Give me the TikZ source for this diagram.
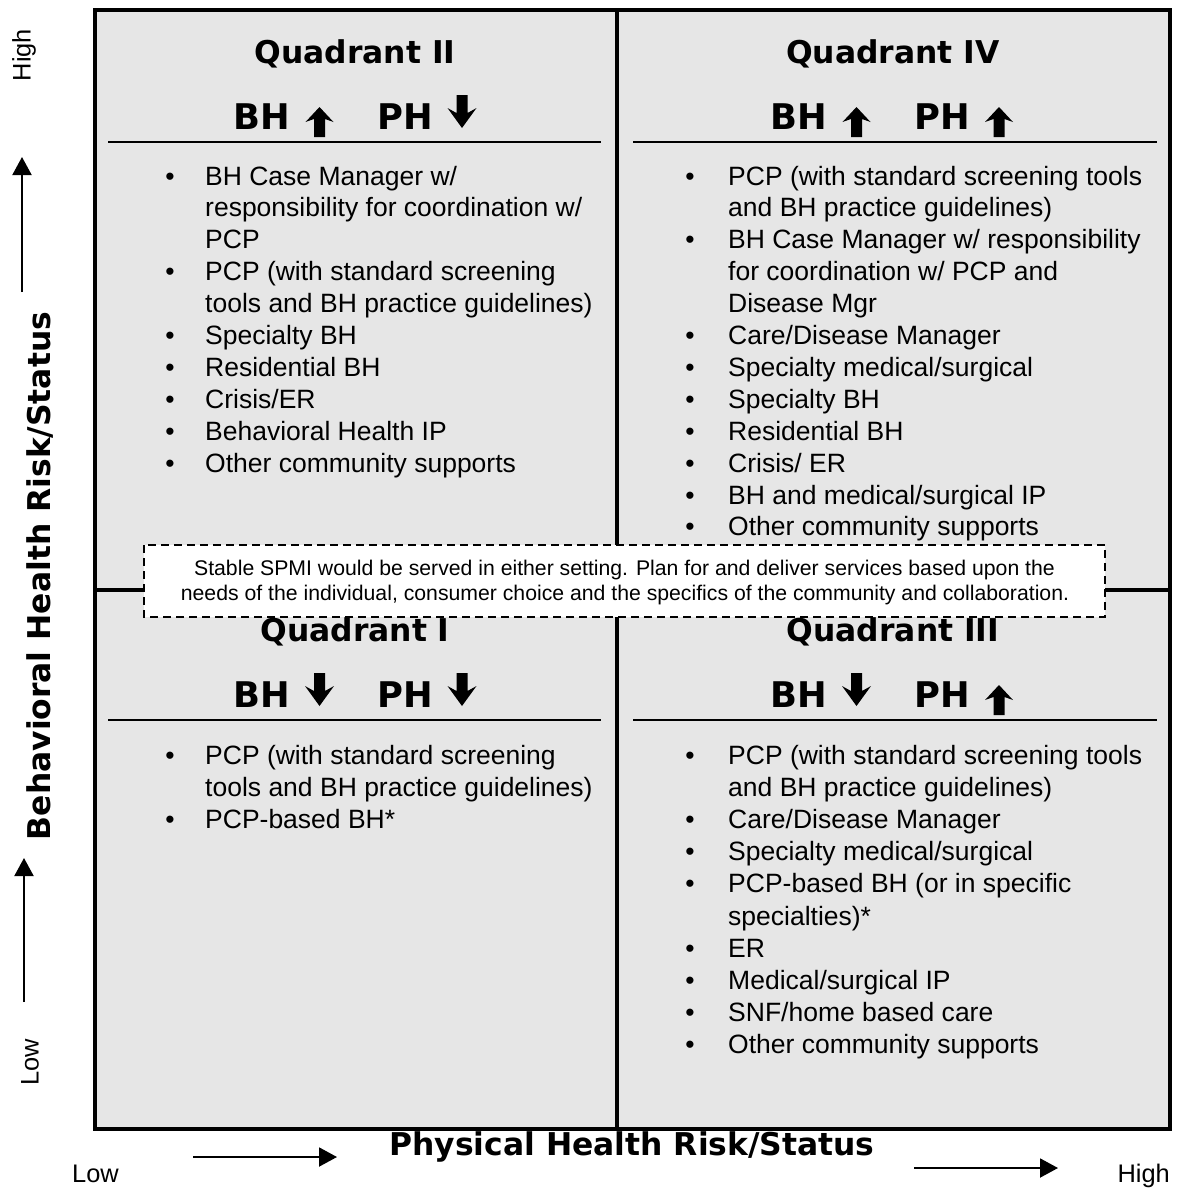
\documentclass[tikz,border=0pt]{standalone}
\usepackage{fontspec}
\setmainfont{Liberation Sans}
\newfontfamily\heavy{DejaVu Sans Bold}
\usetikzlibrary{arrows.meta}
\definecolor{quadfill}{RGB}{230,230,230}
\tikzset{
  body/.style={font=\fontsize{26.6}{32}\selectfont, inner sep=0pt, anchor=base west},
  bul/.style={font=\fontsize{26.6}{32}\selectfont, inner sep=0pt, anchor=base},
  qtitle/.style={font=\heavy\fontsize{31.5}{36}\selectfont, inner sep=0pt, anchor=base},
  hdr/.style={font=\heavy\fontsize{35.5}{40}\selectfont, inner sep=0pt, anchor=base west},
  axlabel/.style={font=\fontsize{25.5}{28}\selectfont, inner sep=0pt},
  axtitle/.style={font=\heavy\fontsize{31.5}{36}\selectfont, inner sep=0pt},
  axarrow/.style={line width=2bp, -{Triangle[length=18bp,width=19bp]}},
  note/.style={font=\fontsize{21.3}{25}\selectfont, inner sep=0pt, anchor=base},
  hrule/.style={line width=2bp},
}
\newcommand\tline[4]{\node[body] (#1) at (#2,#3) {#4};}
\newcommand\tbul[3]{\node[bul] (#1) at (#2,#3) {\textbullet};}
\newcommand\upblk[2]{\fill (#1,#2) -- ++(14,15) -- ++(-8.5,-3) -- ++(0,18) -- ++(-11,0) -- ++(0,-18) -- ++(-8.5,3) -- cycle;}
\newcommand\downblk[2]{\fill (#1,#2) ++(-5.5,0) -- ++(11,0) -- ++(0,18) -- ++(9,-5) -- ++(-14.5,20) -- ++(-14.5,-20) -- ++(9,5) -- cycle;}
\begin{document}
\begin{tikzpicture}[x=1bp,y=-1bp]
\useasboundingbox (0,0) rectangle (1190,1188);
% frame and dividers
\draw[line width=4bp, fill=quadfill] (95,10) rectangle (1170,1129);
\draw[line width=3.5bp] (617,10) -- (617,1129);
\draw[line width=3.5bp] (95,590) -- (1170,590);
% header rules
\draw[hrule] (108,142) -- (601,142);
\draw[hrule] (633,142) -- (1157,142);
\draw[hrule] (108,720) -- (601,720);
\draw[hrule] (633,720) -- (1157,720);
% titles
\node[qtitle] (t2) at (355,63) {Quadrant II};
\node[qtitle] (t4) at (893,63) {Quadrant IV};
\node[qtitle] (t1) at (355,641) {Quadrant I};
\node[qtitle] (t3) at (893,641) {Quadrant III};
% header rows
\node[hdr] (h2bh) at (233,129) {BH};
\node[hdr] (h2ph) at (377,129) {PH};
\upblk{319.5}{107}
\downblk{462}{95}
\node[hdr] (h4bh) at (770,129) {BH};
\node[hdr] (h4ph) at (914,129) {PH};
\upblk{856.5}{107}
\upblk{999}{107}
\node[hdr] (h1bh) at (233,707) {BH};
\node[hdr] (h1ph) at (377,707) {PH};
\downblk{319.5}{673}
\downblk{462}{673}
\node[hdr] (h3bh) at (770,707) {BH};
\node[hdr] (h3ph) at (914,707) {PH};
\downblk{856.5}{673}
\upblk{999}{685}
% Quadrant II list
\tbul{b2a}{170}{185}
\tline{q2a}{205}{185}{BH Case Manager w/}
\tline{q2b}{205}{216.9}{responsibility for coordination w/}
\tline{q2c}{205}{248.8}{PCP}
\tbul{b2d}{170}{280.7}
\tline{q2d}{205}{280.7}{PCP (with standard screening}
\tline{q2e}{205}{312.6}{tools and BH practice guidelines)}
\tbul{b2f}{170}{344.5}
\tline{q2f}{205}{344.5}{Specialty BH}
\tbul{b2g}{170}{376.4}
\tline{q2g}{205}{376.4}{Residential BH}
\tbul{b2h}{170}{408.3}
\tline{q2h}{205}{408.3}{Crisis/ER}
\tbul{b2i}{170}{440.2}
\tline{q2i}{205}{440.2}{Behavioral Health IP}
\tbul{b2j}{170}{472.1}
\tline{q2j}{205}{472.1}{Other community supports}
% Quadrant IV list
\tbul{b4a}{690}{185}
\tline{q4a}{728}{185}{PCP (with standard screening tools}
\tline{q4b}{728}{216.9}{and BH practice guidelines)}
\tbul{b4c}{690}{248.8}
\tline{q4c}{728}{248.8}{BH Case Manager w/ responsibility}
\tline{q4d}{728}{280.7}{for coordination w/ PCP and}
\tline{q4e}{728}{312.6}{Disease Mgr}
\tbul{b4f}{690}{344.5}
\tline{q4f}{728}{344.5}{Care/Disease Manager}
\tbul{b4g}{690}{376.4}
\tline{q4g}{728}{376.4}{Specialty medical/surgical}
\tbul{b4h}{690}{408.3}
\tline{q4h}{728}{408.3}{Specialty BH}
\tbul{b4i}{690}{440.2}
\tline{q4i}{728}{440.2}{Residential BH}
\tbul{b4j}{690}{472.1}
\tline{q4j}{728}{472.1}{Crisis/ ER}
\tbul{b4k}{690}{504}
\tline{q4k}{728}{504}{BH and medical/surgical IP}
\tbul{b4l}{690}{535.9}
\tline{q4l}{728}{535.9}{Other community supports}
% Quadrant I list
\tbul{b1a}{170}{764}
\tline{q1a}{205}{764}{PCP (with standard screening}
\tline{q1b}{205}{796.2}{tools and BH practice guidelines)}
\tbul{b1c}{170}{828.4}
\tline{q1c}{205}{828.4}{PCP-based BH*}
% Quadrant III list
\tbul{b3a}{690}{764}
\tline{q3a}{728}{764}{PCP (with standard screening tools}
\tline{q3b}{728}{796.2}{and BH practice guidelines)}
\tbul{b3c}{690}{828.4}
\tline{q3c}{728}{828.4}{Care/Disease Manager}
\tbul{b3d}{690}{860.6}
\tline{q3d}{728}{860.6}{Specialty medical/surgical}
\tbul{b3e}{690}{892.8}
\tline{q3e}{728}{892.8}{PCP-based BH (or in specific}
\tline{q3f}{728}{925}{specialties)*}
\tbul{b3g}{690}{957.2}
\tline{q3g}{728}{957.2}{ER}
\tbul{b3h}{690}{989.4}
\tline{q3h}{728}{989.4}{Medical/surgical IP}
\tbul{b3i}{690}{1021.6}
\tline{q3i}{728}{1021.6}{SNF/home based care}
\tbul{b3j}{690}{1053.8}
\tline{q3j}{728}{1053.8}{Other community supports}
% dashed note box
\draw[line width=1.5bp, dash pattern=on 8bp off 5bp, fill=white] (144,545) rectangle (1105,617);
\node[note] (n1) at (624.5,575) {Stable SPMI would be served in either setting. Plan for and deliver services based upon the};
\node[note] (n2) at (625,600) {needs of the individual, consumer choice and the specifics of the community and collaboration.};
% left axis
\node[axlabel, rotate=90] (yhigh) at (24,55) {High};
\coordinate (yu1) at (22,292);
\coordinate (yu2) at (22,157);
\draw[axarrow] (yu1) -- (yu2);
\node[axtitle, rotate=90] (ytitle) at (40,576) {Behavioral Health Risk/Status};
\coordinate (yl1) at (24,1002);
\coordinate (yl2) at (24,858);
\draw[axarrow] (yl1) -- (yl2);
\node[axlabel, rotate=90] (ylow) at (30,1062) {Low};
% bottom axis
\node[axlabel, anchor=base west] (xlow) at (72,1182) {Low};
\coordinate (xl1) at (193,1157);
\coordinate (xl2) at (337,1157);
\draw[axarrow] (xl1) -- (xl2);
\node[axtitle, anchor=base] (xtitle) at (632,1155) {Physical Health Risk/Status};
\coordinate (xr1) at (914,1168);
\coordinate (xr2) at (1058,1168);
\draw[axarrow] (xr1) -- (xr2);
\node[axlabel, anchor=base east] (xhigh) at (1170,1182) {High};
\end{tikzpicture}
\end{document}
